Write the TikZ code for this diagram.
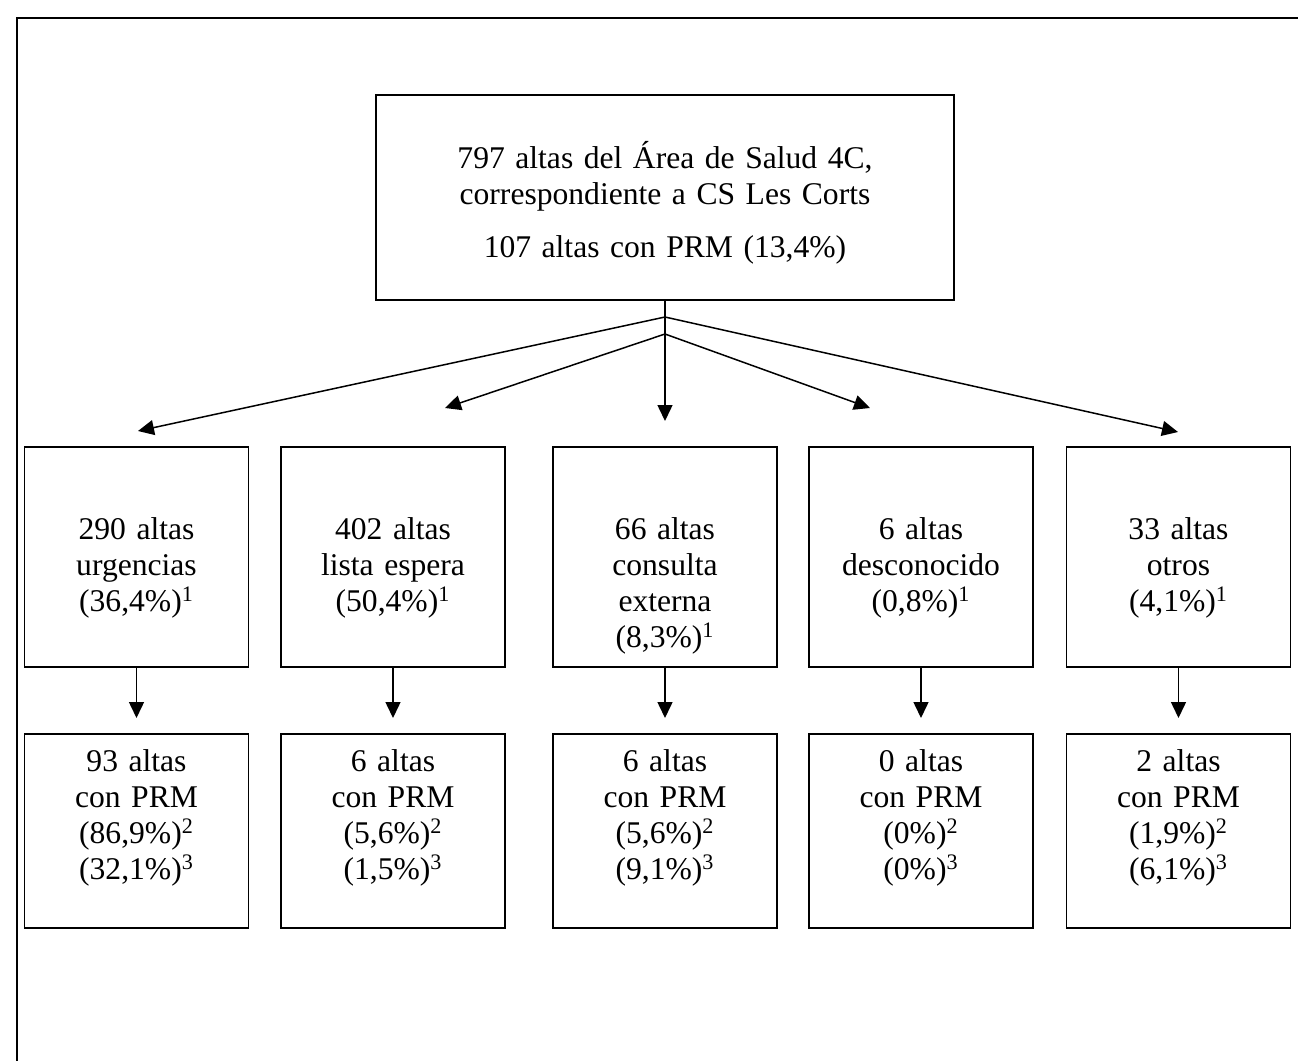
\documentclass[tikz,border=0pt]{standalone}
\usepackage{fontspec}
\setmainfont{Liberation Serif}
\usetikzlibrary{arrows.meta,positioning}

\begin{document}
\begin{tikzpicture}[x=0.5pt, y=-0.5pt, line width=0.75pt,
        every node/.style={font=\fontsize{15.8}{18}\selectfont},
        caja/.style={draw, inner sep=0pt, anchor=north, align=center},
        mitad/.style={caja, text width=112pt, text height=46.5pt, text depth=63.5pt},
        baja/.style={caja, text width=112pt, text height=19pt, text depth=78pt},
        flecha/.style={-{Triangle[length=8pt,width=7.5pt]}}]
        \useasboundingbox (0,0) rectangle (1298,1061);
        % marco
        \draw[line width=1pt] (17,1061) -- (17,18) -- (1298,18);

        \node[caja, text width=289pt, text height=37pt, text depth=65.5pt] (total) at (665,94)
            {797 altas del Área de Salud 4C,\\ correspondiente a CS Les Corts\\[8.5pt] 107 altas con PRM (13,4\%)};

        \node[mitad] (m1) at (136.5,446) {290 altas\\ urgencias\\ (36,4\%)\textsuperscript{1}};
        \node[mitad] (m2) at (393,446) {402 altas\\ lista espera\\ (50,4\%)\textsuperscript{1}};
        \node[mitad] (m3) at (665,446) {66 altas\\ consulta\\ externa\\ (8,3\%)\textsuperscript{1}};
        \node[mitad] (m4) at (921,446) {6 altas\\ desconocido\\ (0,8\%)\textsuperscript{1}};
        \node[mitad] (m5) at (1178.5,446) {33 altas\\ otros\\ (4,1\%)\textsuperscript{1}};

        \node[baja] (b1) at (136.5,733) {93 altas\\ con PRM\\ (86,9\%)\textsuperscript{2}\\ (32,1\%)\textsuperscript{3}};
        \node[baja] (b2) at (393,733) {6 altas\\ con PRM\\ (5,6\%)\textsuperscript{2}\\ (1,5\%)\textsuperscript{3}};
        \node[baja] (b3) at (665,733) {6 altas\\ con PRM\\ (5,6\%)\textsuperscript{2}\\ (9,1\%)\textsuperscript{3}};
        \node[baja] (b4) at (921,733) {0 altas\\ con PRM\\ (0\%)\textsuperscript{2}\\ (0\%)\textsuperscript{3}};
        \node[baja] (b5) at (1178.5,733) {2 altas\\ con PRM\\ (1,9\%)\textsuperscript{2}\\ (6,1\%)\textsuperscript{3}};

        \coordinate (a1) at (665,317);
        \coordinate (a2) at (665,334);
        \coordinate (t1) at (138,431);
        \coordinate (t2) at (445,408);
        \coordinate (t3) at (665,421);
        \coordinate (t4) at (870,408);
        \coordinate (t5) at (1178,432);

        \draw[flecha] (total.south) -- (t3);
        \draw[flecha] (a1) -- (t1);
        \draw[flecha] (a1) -- (t5);
        \draw[flecha] (a2) -- (t2);
        \draw[flecha] (a2) -- (t4);

        \foreach \i in {1,...,5}
            \draw[flecha, shorten >=7.5pt] (m\i.south) -- (b\i.north);
    \end{tikzpicture}
\end{document}
